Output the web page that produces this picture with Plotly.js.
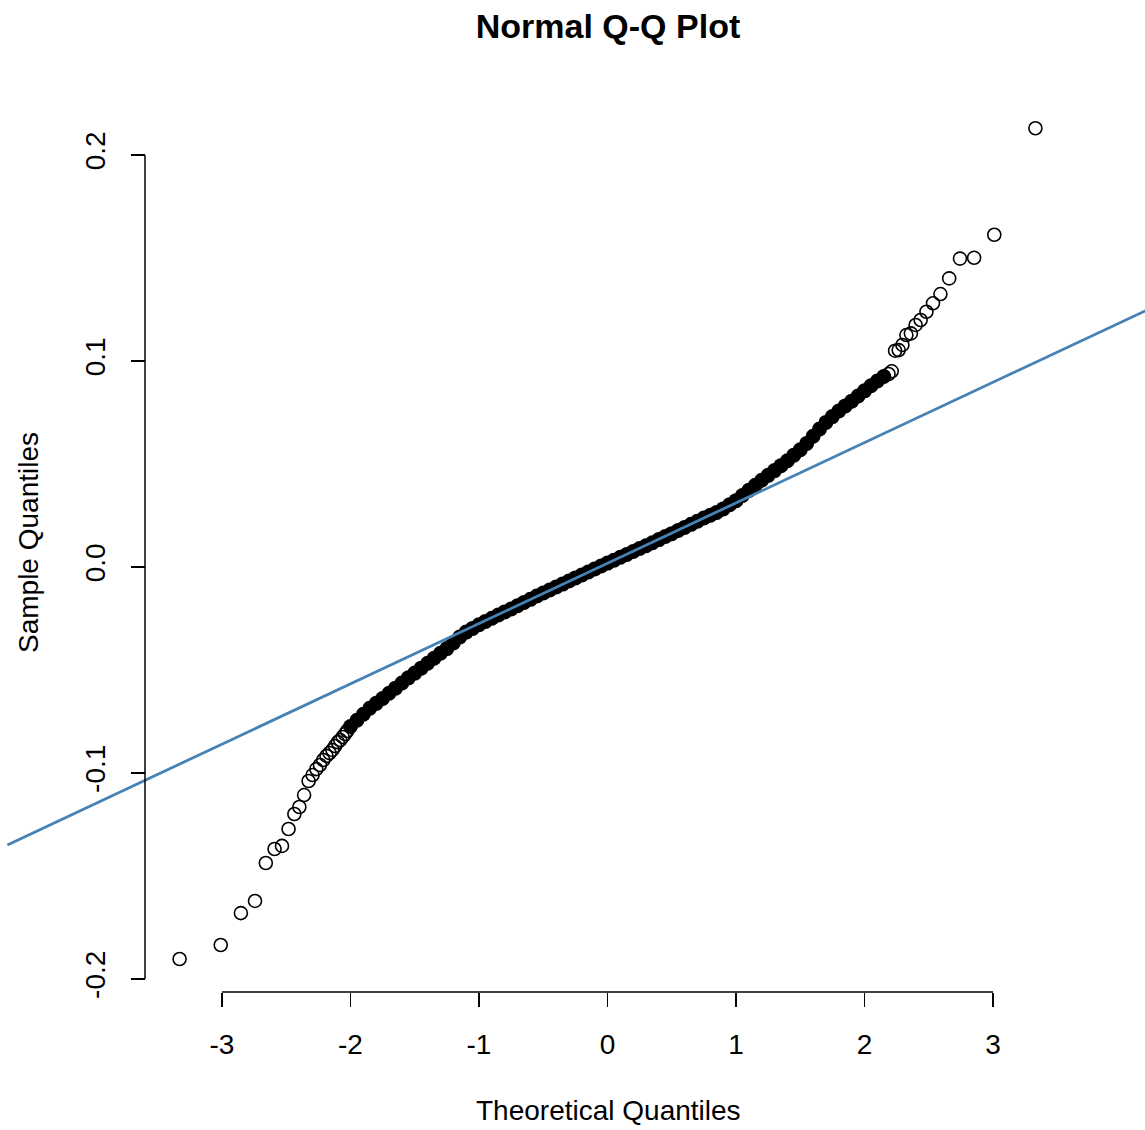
<!DOCTYPE html>
<html>
<head>
<meta charset="utf-8">
<script src="https://cdn.plot.ly/plotly-3.0.1.min.js"></script>
<style>
  html, body { margin: 0; padding: 0; background: #ffffff; }
  #chart { width: 1145px; height: 1130px; }
</style>
</head>
<body>
<div id="chart"></div>
<script>
// Lower tail: isolated sample quantiles against theoretical quantiles
const tailLowX = [-3.330, -3.010, -2.853, -2.743, -2.659, -2.591, -2.533, -2.482, -2.437, -2.398,
                  -2.361, -2.326, -2.295, -2.266, -2.238, -2.212, -2.187, -2.163, -2.141, -2.120,
                  -2.099, -2.080, -2.061, -2.043, -2.026];
const tailLowY = [-0.1903, -0.1835, -0.1680, -0.1621, -0.1437, -0.1369, -0.1354, -0.1272, -0.1199, -0.1165,
                  -0.1107, -0.1039, -0.1010, -0.0981, -0.0961, -0.0937, -0.0917, -0.0903, -0.0888, -0.0869,
                  -0.0850, -0.0840, -0.0825, -0.0811, -0.0796];

// Upper tail
const tailHighX = [3.330, 3.010, 2.853, 2.743, 2.659, 2.591, 2.533, 2.482, 2.437, 2.398,
                   2.361, 2.326, 2.295, 2.266, 2.238, 2.212, 2.187];
const tailHighY = [0.2130, 0.1613, 0.1501, 0.1497, 0.1401, 0.1325, 0.1280, 0.1239, 0.1199, 0.1175,
                   0.1134, 0.1126, 0.1078, 0.1053, 0.1050, 0.0950, 0.0937];

// Dense central body of the sample
const bodyX = [-2.00, -1.95, -1.90, -1.85, -1.80, -1.75, -1.70, -1.65, -1.60, -1.55,
               -1.50, -1.45, -1.40, -1.35, -1.30, -1.25, -1.20, -1.15, -1.10, -1.05,
               -1.00, -0.95, -0.90, -0.85, -0.80, -0.75, -0.70, -0.65, -0.60, -0.55,
               -0.50, -0.45, -0.40, -0.35, -0.30, -0.25, -0.20, -0.15, -0.10, -0.05,
                0.00,  0.05,  0.10,  0.15,  0.20,  0.25,  0.30,  0.35,  0.40,  0.45,
                0.50,  0.55,  0.60,  0.65,  0.70,  0.75,  0.80,  0.85,  0.90,  0.95,
                1.00,  1.05,  1.10,  1.15,  1.20,  1.25,  1.30,  1.35,  1.40,  1.45,
                1.50,  1.55,  1.60,  1.65,  1.70,  1.75,  1.80,  1.85,  1.90,  1.95,
                2.00,  2.05,  2.10,  2.15];
const bodyY = [-0.0774, -0.0744, -0.0715, -0.0686, -0.0662, -0.0638, -0.0613, -0.0588, -0.0563, -0.0538,
               -0.0515, -0.0491, -0.0467, -0.0443, -0.0419, -0.0396, -0.0369, -0.0340, -0.0316, -0.0298,
               -0.0280, -0.0264, -0.0249, -0.0233, -0.0218, -0.0204, -0.0188, -0.0172, -0.0157, -0.0141,
               -0.0126, -0.0112, -0.0097, -0.0083, -0.0068, -0.0053, -0.0039, -0.0024, -0.0010,  0.0005,
                0.0019,  0.0033,  0.0047,  0.0061,  0.0075,  0.0090,  0.0103,  0.0118,  0.0133,  0.0148,
                0.0162,  0.0177,  0.0192,  0.0207,  0.0222,  0.0238,  0.0251,  0.0265,  0.0282,  0.0302,
                0.0322,  0.0347,  0.0372,  0.0397,  0.0421,  0.0445,  0.0468,  0.0492,  0.0516,  0.0543,
                0.0569,  0.0600,  0.0635,  0.0670,  0.0702,  0.0730,  0.0757,  0.0782,  0.0805,  0.0830,
                0.0855,  0.0880,  0.0903,  0.0925];

// Reference line through the quartiles
const lineIntercept = 0.00183;
const lineSlope = 0.02928;
const lineX = [-4.67, 4.19];

// Tick labels
const xTickVals = [-3, -2, -1, 0, 1, 2, 3];
const xTickText = ['-3', '-2', '-1', '0', '1', '2', '3'];
const yTickVals = [-0.2, -0.1, 0.0, 0.1, 0.2];
const yTickText = ['-0.2', '-0.1', '0.0', '0.1', '0.2'];

const FONT = '"Liberation Sans", Arial, Helvetica, sans-serif';
const W = 1145, H = 1130;

// Pixel geometry of the frame: the data window spans the whole page
const px0 = 607.5, pxPerX = 128.5;   // x = 0 position and pixels per unit
const py0 = 567, pxPerY = 2060;      // y = 0 position and pixels per unit
const xRange = [(0 - px0) / pxPerX, (W - px0) / pxPerX];
const yRange = [(py0 - H) / pxPerY, py0 / pxPerY];
const xAxisPosY = 1 - 992 / H;   // paper y of the bottom axis
const yAxisPosX = 145 / W;       // paper x of the left axis

const openCircle = {
  symbol: 'circle-open', size: 13, color: '#000000',
  line: { color: '#000000', width: 1.6 }
};

const traces = [
  {
    type: 'scatter', mode: 'markers', x: bodyX, y: bodyY,
    marker: { symbol: 'circle', size: 15, color: '#000000', line: { width: 0 } },
    hoverinfo: 'x+y', showlegend: false
  },
  {
    type: 'scatter', mode: 'markers', x: tailLowX, y: tailLowY,
    marker: openCircle, hoverinfo: 'x+y', showlegend: false
  },
  {
    type: 'scatter', mode: 'markers', x: tailHighX, y: tailHighY,
    marker: openCircle, hoverinfo: 'x+y', showlegend: false
  },
  {
    type: 'scatter', mode: 'lines', x: lineX,
    y: lineX.map(v => lineIntercept + lineSlope * v),
    line: { color: '#4682B4', width: 2.8 },
    hoverinfo: 'skip', showlegend: false
  }
];

const layout = {
  width: W, height: H,
  margin: { l: 0, r: 0, t: 0, b: 0, pad: 0 },
  paper_bgcolor: '#ffffff', plot_bgcolor: '#ffffff',
  font: { family: FONT, color: '#000000', size: 28 },
  title: {
    text: '<b>Normal Q-Q Plot</b>',
    font: { family: FONT, size: 34, color: '#000000' },
    x: 608 / W, xanchor: 'center', xref: 'container',
    y: 1 - 26 / H, yanchor: 'middle', yref: 'container'
  },
  xaxis: {
    range: xRange, anchor: 'free', position: xAxisPosY,
    showgrid: false, zeroline: false, showline: false, automargin: false,
    tickmode: 'array', tickvals: xTickVals, ticktext: xTickText,
    ticks: 'outside', ticklen: 14, tickwidth: 1.5, tickcolor: '#000000',
    ticklabelstandoff: 13,
    tickfont: { family: FONT, size: 28, color: '#000000' },
    fixedrange: true
  },
  yaxis: {
    range: yRange, anchor: 'free', position: yAxisPosX,
    showgrid: false, zeroline: false, showline: false, automargin: false,
    tickmode: 'array', tickvals: yTickVals, ticktext: yTickText,
    ticks: 'outside', ticklen: 14, tickwidth: 1.5, tickcolor: '#000000',
    tickangle: -90, ticklabelstandoff: 15,
    tickfont: { family: FONT, size: 28, color: '#000000' },
    fixedrange: true
  },
  shapes: [
    { type: 'line', xref: 'x', yref: 'paper', x0: xTickVals[0], x1: xTickVals[xTickVals.length - 1],
      y0: xAxisPosY, y1: xAxisPosY, line: { color: '#000000', width: 1.5 } },
    { type: 'line', xref: 'paper', yref: 'y', x0: yAxisPosX, x1: yAxisPosX,
      y0: yTickVals[0], y1: yTickVals[yTickVals.length - 1], line: { color: '#000000', width: 1.5 } }
  ],
  annotations: [
    { text: 'Theoretical Quantiles', xref: 'paper', yref: 'paper',
      x: 608 / W, y: 1 - 1110 / H, xanchor: 'center', yanchor: 'middle',
      showarrow: false, font: { family: FONT, size: 28, color: '#000000' } },
    { text: 'Sample Quantiles', xref: 'paper', yref: 'paper',
      x: 28 / W, y: 1 - 543 / H, xanchor: 'center', yanchor: 'middle', textangle: -90,
      showarrow: false, font: { family: FONT, size: 28, color: '#000000' } }
  ]
};

Plotly.newPlot('chart', traces, layout, { staticPlot: true, displayModeBar: false });
</script>
</body>
</html>
